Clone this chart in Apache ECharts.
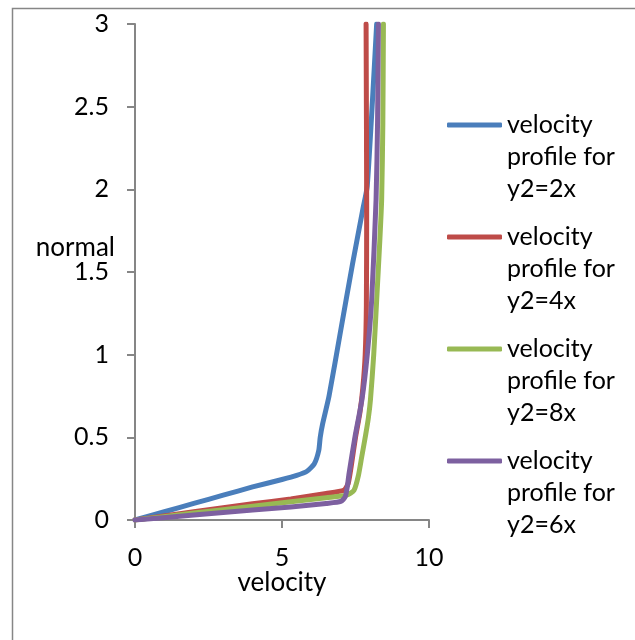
<!DOCTYPE html>
<html>
<head>
<meta charset="utf-8">
<script src="https://cdn.jsdelivr.net/npm/echarts@6/dist/echarts.min.js"></script>
<style>
  html, body { margin: 0; padding: 0; background: #fff; }
  #chart-main { width: 635px; height: 640px; }
</style>
</head>
<body>
<div id="chart-main"></div>
<script>
/* ── 데이터 ── */
const seriesNames = [
  'velocity\nprofile for\ny2=2x',
  'velocity\nprofile for\ny2=4x',
  'velocity\nprofile for\ny2=8x',
  'velocity\nprofile for\ny2=6x'
];
const seriesColors = ['#4A7EBB', '#BE4B48', '#98B954', '#7D60A0'];

// [velocity, normal]
const profile2x = [
  [0, 0], [1, 0.05], [2, 0.1], [3, 0.15], [4, 0.2], [5, 0.245], [5.5, 0.27],
  [5.85, 0.295], [6.1, 0.34], [6.25, 0.42], [6.3, 0.5], [6.38, 0.58],
  [6.6, 0.75], [7.0, 1.15], [7.4, 1.55], [7.75, 1.88], [7.9, 2.02], [8.22, 3]
];
const profile4x = [
  [0, 0], [2, 0.05], [4, 0.098], [5.3, 0.127], [6.5, 0.16], [7.1, 0.18],
  [7.25, 0.22], [7.35, 0.32], [7.5, 0.5], [7.65, 0.65], [7.75, 0.8],
  [7.83, 1.0], [7.87, 1.3], [7.88, 1.9], [7.86, 3]
];
const profile8x = [
  [0, 0], [2, 0.042], [4, 0.083], [5.3, 0.11], [6.5, 0.135], [7.2, 0.15],
  [7.45, 0.18], [7.6, 0.27], [7.71, 0.38], [7.85, 0.52], [7.94, 0.62],
  [8.01, 0.73], [8.12, 1.0], [8.22, 1.33], [8.33, 1.7], [8.39, 1.94],
  [8.43, 2.4], [8.45, 3]
];
const profile6x = [
  [0, 0], [2, 0.03], [4, 0.06], [5.3, 0.078], [6.5, 0.1], [7.0, 0.112],
  [7.15, 0.14], [7.22, 0.2], [7.28, 0.28], [7.48, 0.5], [7.72, 0.73],
  [7.9, 1.0], [8.05, 1.33], [8.2, 1.94], [8.25, 2.4], [8.28, 3]
];
const seriesData = [profile2x, profile4x, profile8x, profile6x];

const FONT = "Lato, 'Open Sans', sans-serif";
const AXIS_GRAY = '#868686';

const chart = echarts.init(document.getElementById('chart-main'), null, { renderer: 'canvas' });

chart.setOption({
  animation: false,
  textStyle: { fontFamily: FONT, color: '#000' },
  // 외곽 테두리 (엑셀 차트 영역)
  graphic: [{
    type: 'rect',
    shape: { x: 12.5, y: 8.5, width: 700, height: 700 },
    style: { fill: 'none', stroke: AXIS_GRAY, lineWidth: 1.5 },
    silent: true
  }],
  grid: { left: 135, right: 206, top: 24, bottom: 120, containLabel: false },
  legend: {
    orient: 'vertical',
    left: 447,
    top: 45,
    padding: 0,
    itemGap: -48,
    itemWidth: 55,
    itemHeight: 5,
    icon: 'roundRect',
    selectedMode: false,
    // 빈 줄 두 개를 앞에 넣어 첫 줄이 아이콘 높이에 오도록
    formatter: name => '\n\n' + name,
    textStyle: { fontFamily: FONT, fontSize: 25, lineHeight: 32, color: '#000' },
    data: seriesNames
  },
  xAxis: {
    type: 'value',
    min: 0, max: 10, interval: 5,
    name: 'velocity',
    nameLocation: 'middle',
    nameGap: 50,
    nameMoveOverlap: false,
    nameTextStyle: { fontFamily: FONT, fontSize: 26, color: '#000' },
    axisLine: { show: true, onZero: false, lineStyle: { color: AXIS_GRAY, width: 2 } },
    axisTick: { show: true, inside: false, length: 8, lineStyle: { color: AXIS_GRAY, width: 2 } },
    axisLabel: { fontFamily: FONT, fontSize: 25, color: '#000', margin: 25 },
    splitLine: { show: false }
  },
  yAxis: {
    type: 'value',
    min: 0, max: 3, interval: 0.5,
    name: 'normal\n \n ',
    nameLocation: 'middle',
    nameRotate: 0,
    nameGap: 20,
    nameMoveOverlap: false,
    nameTextStyle: { fontFamily: FONT, fontSize: 26, lineHeight: 24, color: '#000' },
    axisLine: { show: true, onZero: false, lineStyle: { color: AXIS_GRAY, width: 2 } },
    axisTick: { show: true, inside: false, length: 8, lineStyle: { color: AXIS_GRAY, width: 2 } },
    axisLabel: { fontFamily: FONT, fontSize: 25, color: '#000', margin: 26 },
    splitLine: { show: false }
  },
  series: seriesData.map((data, i) => ({
    name: seriesNames[i],
    type: 'line',
    data,
    smooth: 0.2,
    showSymbol: false,
    symbol: 'none',
    color: seriesColors[i],
    lineStyle: { color: seriesColors[i], width: 5, cap: 'round', join: 'round' },
    z: 2 + i
  }))
});
</script>
</body>
</html>
